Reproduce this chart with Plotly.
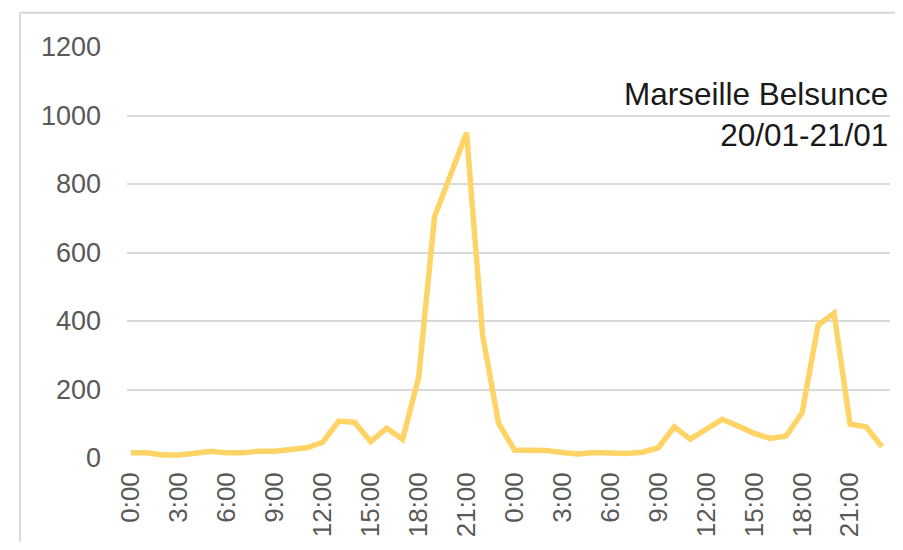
import plotly.graph_objects as go

hours = [f"{h}:00" for h in range(24)] * 2
values = [15, 15, 9, 9, 14, 20, 15, 15, 20, 20, 25, 30, 46, 108, 104, 48, 87, 55,
          235, 705, 827, 950, 360, 102,
          23, 22, 22, 16, 12, 16, 13, 13, 17, 30, 91, 55, 84, 113, 93, 72, 57, 64,
          132, 388, 423, 99, 91, 33]
title_lines = ["Marseille Belsunce", "20/01-21/01"]
y_ticks = [0, 200, 400, 600, 800, 1000, 1200]

x_idx = list(range(len(values)))
tick_idx = [i for i in x_idx if i % 3 == 0]
tick_txt = [hours[i] for i in tick_idx]

FONT = "Liberation Sans"
OFF = 8  # page body margin
fig = go.Figure()
fig.add_trace(go.Scatter(x=x_idx, y=values, mode="lines",
                         line=dict(color="#FFD466", width=5.5), hoverinfo="skip"))

W, H = 903 - 2 * OFF, 550 - 2 * OFF
L, T = 127 - OFF, 47 - OFF
R = (OFF + W) - 890
B = (OFF + H) - 458
pw, ph = W - L - R, H - T - B
bx = (20 - 127) / pw
by = (458 - 12.7) / ph
x_right = 1 + R / pw
y_bottom = -B / ph

fig.update_layout(
    width=W, height=H,
    margin=dict(l=L, r=R, t=T, b=B, autoexpand=False),
    paper_bgcolor="white", plot_bgcolor="white",
    showlegend=False,
    font=dict(family=FONT, color="#595959", size=27),
    xaxis=dict(range=[-0.25, 47.5], tickmode="array", tickvals=tick_idx, ticktext=tick_txt,
               tickangle=-90, showgrid=False, zeroline=False, showline=False, automargin=False,
               ticks="", ticklabelstandoff=8, tickfont=dict(size=26, color="#595959")),
    yaxis=dict(range=[0, 1200], tickmode="array", tickvals=y_ticks, automargin=False,
               showgrid=True, gridcolor="#D9D9D9", gridwidth=2, zeroline=False,
               showline=False, ticks="", ticklabelstandoff=25,
               tickfont=dict(size=27, color="#595959")),
    shapes=[
        dict(type="line", xref="paper", yref="paper", x0=bx, x1=bx, y0=y_bottom, y1=by,
             line=dict(color="#D9D9D9", width=2)),
        dict(type="line", xref="paper", yref="paper", x0=bx, x1=x_right, y0=by, y1=by,
             line=dict(color="#D9D9D9", width=2)),
    ],
    annotations=[dict(text="<br>".join(title_lines), xref="paper", yref="paper",
                      x=(890 - 127) / pw, y=(458 - 74) / ph, xanchor="right", yanchor="top",
                      align="right", showarrow=False,
                      font=dict(family=FONT, size=31.5, color="#1A1A1A"))],
)
fig.write_html("out.html",
               post_script="document.documentElement.style.overflow='hidden';"
                           "document.body.style.overflow='hidden';")
